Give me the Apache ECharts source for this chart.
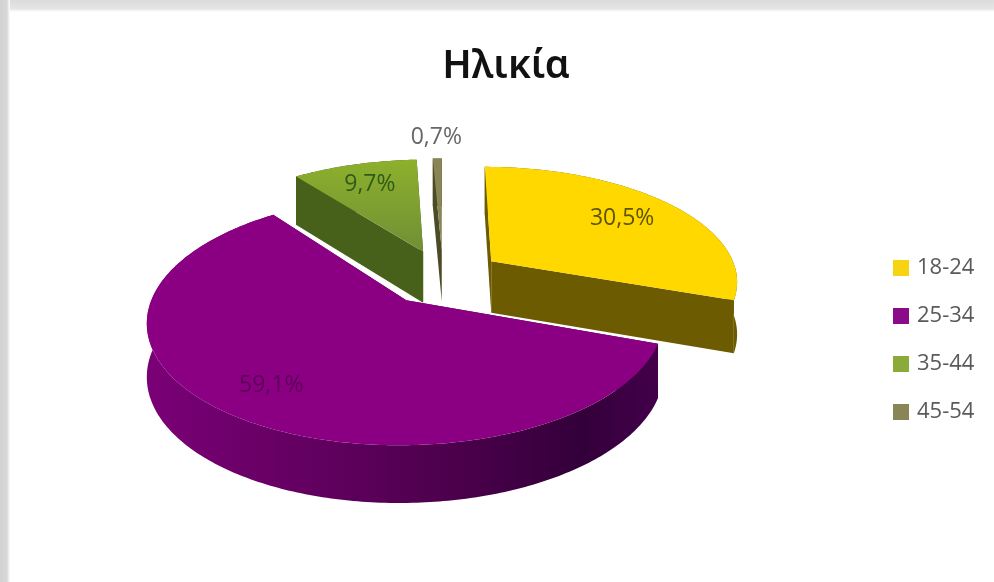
<!DOCTYPE html>
<html>
<head>
<meta charset="utf-8">
<style>html,body{margin:0;padding:0;background:#fff}#chart{width:994px;height:582px}</style>
<script src="https://cdn.jsdelivr.net/npm/echarts@6/dist/echarts.min.js"></script>
</head>
<body>
<div id="chart"></div>
<script>
// Age groups and their share of respondents
const chartTitle = 'Ηλικία';
const categories = ['18-24', '25-34', '35-44', '45-54'];
const shares = [30.5, 59.1, 9.7, 0.7];
const shareLabels = ['30,5%', '59,1%', '9,7%', '0,7%'];

// Colours per slice
const topColors = ['#ffd800', '#8b0082', '#86a92f', '#8a8557'];
const legendColors = ['#f7d312', '#8b0a8a', '#8aab3a', '#8a8557'];
const cutColors = ['#6c5b00', '#4d004c', '#47601a', '#4b4b26'];
const labelColors = ['#5f5400', '#5c0058', '#2f5a18', '#666666'];
const labelRadius = [0.72, 0.78, 0.75, 1.28];
const drawOrder = [1, 3, 2, 4]; // front slices are painted last

// Perspective view of the tilted, exploded pie
const view = { cx: 443, cy: 277, rx: 247, ry: 114, persp: 0.158, depth: 52, explode: 0.244 };

function project(X, V) {
  const s = 1 / (1 - view.persp * V);
  return { x: view.cx + view.rx * X * s, y: view.cy + view.ry * V * s, drop: view.depth * Math.sqrt(s) };
}

function sliceGeometry(index) {
  const total = shares.reduce((a, b) => a + b, 0);
  const before = shares.slice(0, index).reduce((a, b) => a + b, 0);
  const start = before / total * 2 * Math.PI;
  const end = (before + shares[index]) / total * 2 * Math.PI;
  const mid = (start + end) / 2;
  const ox = view.explode * Math.sin(mid);
  const oy = -view.explode * Math.cos(mid);
  const at = (theta, r) => project(ox + r * Math.sin(theta), oy - r * Math.cos(theta));
  const arc = [];
  const steps = Math.max(2, Math.ceil((end - start) / 0.015));
  for (let i = 0; i <= steps; i++) arc.push(at(start + (end - start) * i / steps, 1));
  return { start, end, mid, apex: at(0, 0), arc, at };
}

const flat = (p) => [p.x, p.y];
const low = (p) => [p.x, p.y + p.drop];

function wallFill(index, arc) {
  const xs = arc.map((p) => p.x);
  const x0 = Math.min(...xs), x1 = Math.max(...xs);
  if (index === 1) {
    return new echarts.graphic.LinearGradient(x0, 0, x1, 0, [
      { offset: 0, color: '#7a0076' },
      { offset: 0.3, color: '#640062' },
      { offset: 0.6, color: '#4c004c' },
      { offset: 0.85, color: '#33003a' },
      { offset: 1, color: '#43004a' }
    ], true);
  }
  return cutColors[index];
}

function renderSlice(index, api) {
  const g = sliceGeometry(index);
  const children = [];
  const cutFace = (p) => ({
    type: 'polygon',
    shape: { points: [flat(g.apex), flat(p), low(p), low(g.apex)] },
    style: { fill: cutColors[index] }
  });
  const first = g.arc[0], last = g.arc[g.arc.length - 1];
  children.push(cutFace(first), cutFace(last));
  children.push({
    type: 'polygon',
    shape: { points: g.arc.map(flat).concat(g.arc.map(low).reverse()) },
    style: { fill: wallFill(index, g.arc) }
  });
  const topFill = index === 2
    ? new echarts.graphic.LinearGradient(0, 0, 0, 1, [
        { offset: 0, color: '#8db02c' },
        { offset: 1, color: '#6f8f35' }
      ])
    : topColors[index];
  children.push({
    type: 'polygon',
    shape: { points: [flat(g.apex)].concat(g.arc.map(flat)) },
    style: { fill: topFill }
  });
  const lp = g.at(g.mid, labelRadius[index]);
  children.push({
    type: 'text',
    x: lp.x, y: lp.y,
    style: {
      text: shareLabels[index], fill: labelColors[index],
      font: '23px "Open Sans"', align: 'center', verticalAlign: 'middle'
    }
  });
  return { type: 'group', children };
}

const series = categories.map((name, index) => ({
  name,
  type: 'custom',
  coordinateSystem: 'none',
  z: drawOrder[index],
  silent: true,
  itemStyle: { color: legendColors[index] },
  data: [[shares[index]]],
  renderItem: (params, api) => renderSlice(index, api)
}));

const chart = echarts.init(document.getElementById('chart'), null, { renderer: 'canvas' });
chart.setOption({
  animation: false,
  backgroundColor: '#ffffff',
  title: {
    text: chartTitle,
    left: 501, top: 42, textAlign: 'center',
    textStyle: { fontFamily: '"Noto Sans"', fontSize: 39, fontWeight: 600, color: '#111111' }
  },
  legend: {
    data: categories,
    orient: 'vertical',
    left: 893, top: 257,
    icon: 'rect',
    itemWidth: 16, itemHeight: 16, itemGap: 26, padding: 0,
    selectedMode: false,
    textStyle: { fontFamily: '"Open Sans"', fontSize: 22, lineHeight: 16, color: '#5a5a5a', padding: [0, 0, 0, 3] }
  },
  graphic: [
    {
      type: 'rect', left: 0, top: 0, silent: true, z: -1,
      shape: { width: 994, height: 12 },
      style: {
        fill: new echarts.graphic.LinearGradient(0, 0, 0, 1, [
          { offset: 0, color: '#dcdcdc' },
          { offset: 0.7, color: '#e4e4e4' },
          { offset: 1, color: '#ffffff' }
        ])
      }
    },
    {
      type: 'rect', left: 0, top: 0, silent: true, z: -1,
      shape: { width: 10, height: 582 },
      style: {
        fill: new echarts.graphic.LinearGradient(0, 0, 1, 0, [
          { offset: 0, color: '#d2d2d2' },
          { offset: 0.7, color: '#d8d8d8' },
          { offset: 1, color: '#ffffff' }
        ])
      }
    }
  ],
  series
});
</script>
</body>
</html>
